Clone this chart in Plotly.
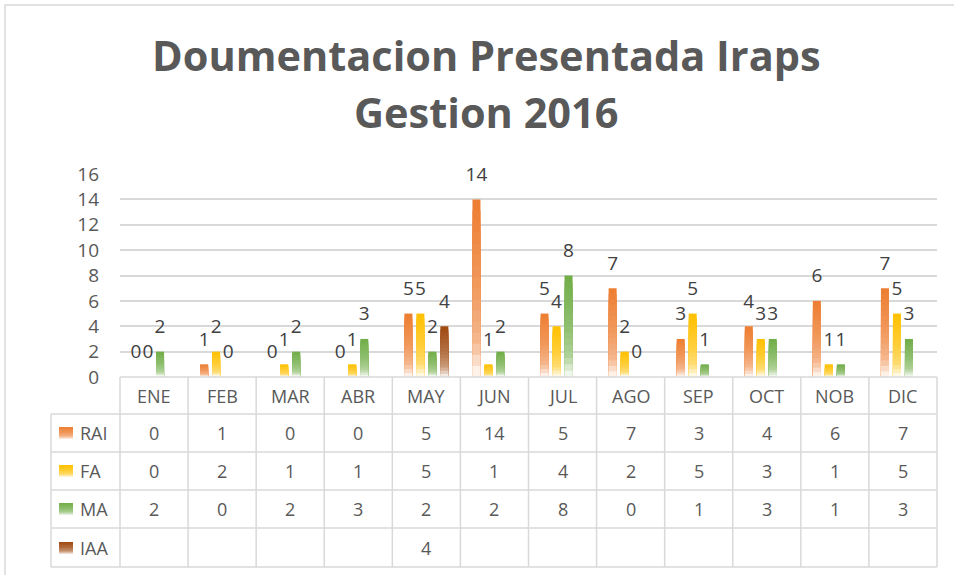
import plotly.graph_objects as go

# ---------------- data ----------------
months = ["ENE", "FEB", "MAR", "ABR", "MAY", "JUN", "JUL", "AGO", "SEP", "OCT", "NOB", "DIC"]
series_names = ["RAI", "FA", "MA", "IAA"]
rai = [0, 1, 0, 0, 5, 14, 5, 7, 3, 4, 6, 7]
fa = [0, 2, 1, 1, 5, 1, 4, 2, 5, 3, 1, 5]
ma = [2, 0, 2, 3, 2, 2, 8, 0, 1, 3, 1, 3]
iaa = [None, None, None, None, 4, None, None, None, None, None, None, None]
y_ticks = [0, 2, 4, 6, 8, 10, 12, 14, 16]
title_line1 = "Doumentacion Presentada Iraps"
title_line2 = "Gestion 2016"

series_values = [rai, fa, ma, iaa]
series_colors = ["#ED7D31", "#FFC000", "#70AD47", "#9E480E"]

# ---------------- geometry ----------------
W, H = 954, 575
L, R, T, B = 120, 937, 174, 377
FONT = "Open Sans"
TXT = "#595959"
GRID = "#d9d9d9"


def px_x(px):
    return (px - L) / (R - L)


def px_y(py):
    return (B - py) / (B - T)


def hex_to_rgb(h):
    h = h.lstrip("#")
    return tuple(int(h[i:i + 2], 16) for i in (0, 2, 4))


def whiten_amount(t):
    # t = 0 at top of bar, 1 at bottom
    stops = [(0.0, 0.0), (0.5, 0.22), (0.8, 0.45), (1.0, 0.97)]
    for (t0, w0), (t1, w1) in zip(stops[:-1], stops[1:]):
        if t <= t1:
            return w0 + (w1 - w0) * (t - t0) / (t1 - t0)
    return stops[-1][1]


def grad_color(hexc, t):
    r, g, b = hex_to_rgb(hexc)
    w = whiten_amount(t)
    return "rgb(%d,%d,%d)" % (round(r + (255 - r) * w), round(g + (255 - g) * w), round(b + (255 - b) * w))


fig = go.Figure()
N = 16
LABEL_PAD = 0.75

for name, vals, col in zip(series_names, series_values, series_colors):
    # overlapping bars from the base, tallest first, so the gradient has no seams
    for k in range(N, 0, -1):
        t = 1 - (k - 0.5) / N
        fig.add_trace(go.Bar(
            x=list(range(len(months))),
            y=[None if v is None else v * k / N for v in vals],
            marker=dict(color=grad_color(col, t), line=dict(width=0)),
            offsetgroup=name, showlegend=False, hoverinfo="skip",
        ))
    # data labels
    fig.add_trace(go.Bar(
        x=list(range(len(months))),
        base=[None if v is None else v for v in vals],
        y=[None if v is None else LABEL_PAD for v in vals],
        marker=dict(color="rgba(0,0,0,0)", line=dict(width=0)),
        text=["" if v is None else str(v) for v in vals],
        textposition="outside", constraintext="none", cliponaxis=False,
        textfont=dict(family=FONT, size=19, color="#404040"),
        offsetgroup=name, showlegend=False, hoverinfo="skip", name=name,
    ))

shapes = []
# chart border
shapes.append(dict(type="rect", xref="paper", yref="paper", x0=px_x(5), x1=px_x(990),
                   y0=px_y(610), y1=px_y(5), line=dict(color=GRID, width=1.5), layer="below"))

# data table grid
row_bounds = [377, 414, 452, 490, 528, 567]
LEG_L = 51
cat_w = (R - L) / len(months)
for i, yb in enumerate(row_bounds):
    x0 = L if i == 0 else LEG_L
    shapes.append(dict(type="line", xref="paper", yref="paper", x0=px_x(x0), x1=px_x(R),
                       y0=px_y(yb), y1=px_y(yb), line=dict(color=GRID, width=1.5)))
for k in range(len(months) + 1):
    xx = L + k * cat_w
    shapes.append(dict(type="line", xref="paper", yref="paper", x0=px_x(xx), x1=px_x(xx),
                       y0=px_y(377), y1=px_y(567), line=dict(color=GRID, width=1.5)))
shapes.append(dict(type="line", xref="paper", yref="paper", x0=px_x(LEG_L), x1=px_x(LEG_L),
                   y0=px_y(414), y1=px_y(567), line=dict(color=GRID, width=1.5)))

annotations = []
# title
annotations.append(dict(text="<b>%s</b>" % title_line1, xref="paper", yref="paper",
                        x=px_x(486), y=px_y(55), showarrow=False, xanchor="center", yanchor="middle",
                        font=dict(family=FONT, size=41.5, color=TXT)))
annotations.append(dict(text="<b>%s</b>" % title_line2, xref="paper", yref="paper",
                        x=px_x(486), y=px_y(112), showarrow=False, xanchor="center", yanchor="middle",
                        font=dict(family=FONT, size=41.5, color=TXT)))

# header row (categories)
for i, m in enumerate(months):
    annotations.append(dict(text=m, xref="x", yref="paper", x=i, y=px_y(396), showarrow=False,
                            xanchor="center", yanchor="middle", font=dict(family=FONT, size=18, color=TXT)))

row_centers = [433, 471, 509, 548]
for r_i, (name, vals, col) in enumerate(zip(series_names, series_values, series_colors)):
    yc = row_centers[r_i]
    # legend key with gradient (overlapping rects, no seams)
    ks = 8
    for j in range(ks, 0, -1):
        t = 1 - (j - 0.5) / ks
        shapes.append(dict(type="rect", xref="paper", yref="paper", x0=px_x(59), x1=px_x(73),
                           y0=px_y(yc + 6), y1=px_y(yc + 6 - 12 * j / ks), line=dict(width=0),
                           fillcolor=grad_color(col, t)))
    annotations.append(dict(text=name, xref="paper", yref="paper", x=px_x(78), y=px_y(yc),
                            showarrow=False, xanchor="left", yanchor="middle",
                            font=dict(family=FONT, size=18, color=TXT)))
    for i, v in enumerate(vals):
        if v is None:
            continue
        annotations.append(dict(text=str(v), xref="x", yref="paper", x=i, y=px_y(yc), showarrow=False,
                                xanchor="center", yanchor="middle",
                                font=dict(family=FONT, size=18, color=TXT)))

fig.update_layout(
    width=W, height=H,
    margin=dict(l=L, r=W - R, t=T, b=H - B),
    paper_bgcolor="white", plot_bgcolor="white",
    barmode="group", bargap=0.295, bargroupgap=0.333,
    showlegend=False,
    xaxis=dict(type="linear", range=[-0.5, len(months) - 0.5], showticklabels=False,
               showgrid=False, zeroline=False, showline=False, fixedrange=True),
    yaxis=dict(range=[0, 16], tickvals=y_ticks, showgrid=True, gridcolor=GRID, gridwidth=1.5,
               zeroline=False, showline=False, ticks="", ticklabelstandoff=20,
               tickfont=dict(family=FONT, size=19, color=TXT), fixedrange=True),
    shapes=shapes, annotations=annotations,
    font=dict(family=FONT, color=TXT),
)

fig.write_html("out.html", config={"displayModeBar": False},
               post_script="document.body.style.margin='0';")
